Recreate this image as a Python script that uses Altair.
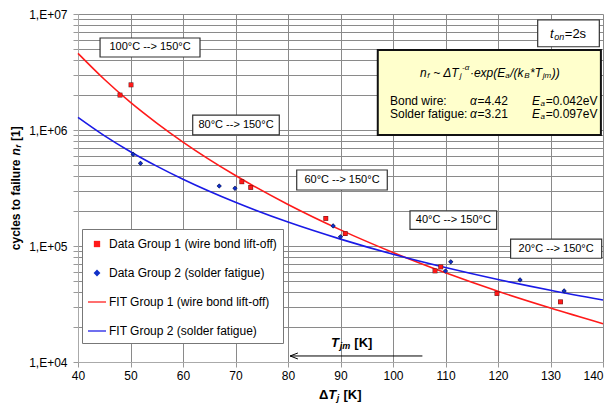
import math
import altair as alt
import pandas as pd

FONT = "Liberation Sans"

# ---------------- data ----------------
series = ["Data Group 1 (wire bond lift-off)", "Data Group 2 (solder fatigue)",
          "FIT Group 1 (wire bond lift-off)", "FIT Group 2 (solder fatigue)"]

g1_dT = [48.0, 50.1, 71.2, 72.9, 87.2, 90.9, 108.0, 109.1, 119.8, 131.9]
g1_nf = [2.0e6, 2.45e6, 3.58e5, 3.2e5, 1.73e5, 1.28e5, 6.1e4, 6.6e4, 3.9e4, 3.3e4]

g2_dT = [50.5, 51.9, 66.9, 69.9, 88.6, 90.0, 110.0, 111.0, 124.2, 132.6]
g2_nf = [6.17e5, 5.16e5, 3.29e5, 3.14e5, 1.49e5, 1.20e5, 6.08e4, 7.3e4, 5.1e4, 4.1e4]

fit_dT = [40, 45, 50, 55, 60, 70, 80, 90, 100, 110, 120, 130, 140]
fit1_nf = [4.58e6, 2.74e6, 1.73e6, 1.148e6, 7.87e5, 4.05e5, 2.28e5, 1.377e5,
           8.79e4, 5.87e4, 4.07e4, 2.92e4, 2.14e4]
fit2_nf = [1.285e6, 8.95e5, 6.50e5, 4.88e5, 3.76e5, 2.38e5, 1.607e5, 1.146e5,
           8.49e4, 6.52e4, 5.14e4, 4.15e4, 3.42e4]

x_ticks = [40, 50, 60, 70, 80, 90, 100, 110, 120, 130, 140]
y_ticks = [m * 10 ** e for e in (4, 5, 6) for m in range(1, 10)] + [10 ** 7]
y_decades = [10000, 100000, 1000000, 10000000]

range_labels = ["100°C --> 150°C", "80°C --> 150°C", "60°C --> 150°C",
                "40°C --> 150°C", "20°C --> 150°C"]
# annotation box corners (data coordinates)
box_x1 = [44.2, 61.85, 81.66, 103.24, 122.4]
box_x2 = [63.24, 78.34, 98.91, 119.75, 139.75]
box_y1 = [6.21e6, 1.346e6, 4.52e5, 2.01e5, 1.148e5]
box_y2 = [4.26e6, 9.06e5, 3.04e5, 1.393e5, 7.84e4]

# ---------------- styling ----------------
RED = "#ff1a1a"
BLUE = "#1a1ae6"
SQ = "M-0.35,-0.35H0.35V0.35H-0.35Z"
DI = "M0,-0.38L0.38,0L0,0.38L-0.38,0Z"
LN = "M-1,-0.07H1V0.07H-1Z"
ARROW = "M2.6,-1L0,0L2.6,1"

REG = {" ": 278, "!": 278, "(": 333, ")": 333, "*": 389, "+": 584, ",": 278, "-": 333,
       ".": 278, "/": 278, ":": 278, "=": 584, "~": 584, "[": 278, "]": 278, "°": 400,
       "·": 278, "Δ": 668, "α": 578, ">": 584,
       "A": 667, "B": 667, "C": 722, "D": 722, "E": 667, "F": 611, "G": 778, "H": 722,
       "I": 278, "J": 500, "K": 667, "L": 556, "M": 833, "N": 722, "O": 778, "P": 667,
       "Q": 778, "R": 722, "S": 667, "T": 611, "U": 722, "V": 667, "W": 944, "X": 667,
       "Y": 667, "Z": 611,
       "a": 556, "b": 556, "c": 500, "d": 556, "e": 556, "f": 278, "g": 556, "h": 556,
       "i": 222, "j": 222, "k": 500, "l": 222, "m": 833, "n": 556, "o": 556, "p": 556,
       "q": 556, "r": 333, "s": 500, "t": 278, "u": 556, "v": 500, "w": 722, "x": 500,
       "y": 500, "z": 500}
BOLD = dict(REG)
BOLD.update({"[": 333, "]": 333, "K": 722, "b": 611, "c": 556, "d": 611, "f": 333,
             "g": 611, "h": 611, "i": 278, "j": 278, "k": 556, "l": 278, "m": 889,
             "n": 611, "o": 611, "p": 611, "q": 611, "r": 389, "s": 556, "t": 333,
             "u": 611, "v": 556, "w": 778, "x": 556, "y": 556})


def twidth(s, size, bold=False):
    tab = BOLD if bold else REG
    return sum(tab.get(c, 556) for c in s) * size / 1000.0


one = pd.DataFrame({"k": [0]})

xscale = alt.Scale(domain=[40, 140], nice=False, zero=False)
yscale = alt.Scale(type="log", domain=[1e4, 1e7], nice=False)

xaxis = alt.Axis(
    values=x_ticks, title=None, grid=True, gridColor="#8a8a8a", gridWidth=1,
    labelFontSize=12, labelColor="black", labelFont=FONT, tickColor="#999",
    domainColor="#aaa", tickSize=5, labelPadding=3,
    labelAlign={"condition": {"test": "datum.value == 140", "value": "right"}, "value": "center"},
)
yaxis = alt.Axis(
    values=y_ticks, title=None, grid=True, gridColor="#8a8a8a", gridWidth=1,
    labelExpr="indexof(%s, datum.value) >= 0 ? '1,E+0' + round(log(datum.value)/LN10) : ''" % str(y_decades),
    labelFontSize=12, labelColor="black", labelFont=FONT, tickColor="#999",
    domainColor="#aaa", tickSize=5, labelPadding=6,
)


def X(field):
    return alt.X(field, scale=xscale, axis=xaxis)


def Y(field):
    return alt.Y(field, scale=yscale, axis=yaxis)


def XD(v):
    return alt.XDatum(v, scale=xscale, axis=xaxis)


def YD(v):
    return alt.YDatum(v, scale=yscale, axis=yaxis)


def rich(parts, x, y, align="left", angle=0, gap=0.6):
    """Text made of pieces (text, size, dy, flags); flags: i=italic, b=bold."""
    starts, cur = [], 0.0
    for text, size, dy, flags in parts:
        bold = "b" in flags
        lead = len(text) - len(text.lstrip(" "))
        starts.append(cur + twidth(" " * lead, size, bold))
        cur += twidth(text, size, bold) + gap
    off = -cur / 2 if align == "center" else 0.0
    out = []
    for (text, size, dy, flags), st in zip(parts, starts):
        out.append(
            alt.Chart(one).mark_text(
                text=text.strip(" "), align="left", baseline="middle", dx=st + off, dy=dy,
                fontSize=size, fontStyle="italic" if "i" in flags else "normal",
                fontWeight="bold" if "b" in flags else "normal", angle=angle,
                color="black", font=FONT,
            ).encode(x=x, y=y)
        )
    return out


# ---------------- layers ----------------
fit1 = pd.DataFrame({"dT": fit_dT, "nf": fit1_nf})
fit2 = pd.DataFrame({"dT": fit_dT, "nf": fit2_nf})

line1 = alt.Chart(fit1).mark_line(color=RED, strokeWidth=1.6, interpolate="monotone").encode(
    x=X("dT:Q"), y=Y("nf:Q"))
line2 = alt.Chart(fit2).mark_line(color=BLUE, strokeWidth=1.6, interpolate="monotone").encode(
    x=X("dT:Q"), y=Y("nf:Q"))

pts = pd.DataFrame({
    "dT": g1_dT + g2_dT,
    "nf": g1_nf + g2_nf,
    "series": [series[0]] * len(g1_dT) + [series[1]] * len(g2_dT),
})
p1 = pd.DataFrame({"dT": g1_dT, "nf": g1_nf})
p2 = pd.DataFrame({"dT": g2_dT, "nf": g2_nf})

out1 = alt.Chart(p1).mark_point(shape=SQ, filled=True, color="#5a1010", size=190, opacity=1).encode(
    x=X("dT:Q"), y=Y("nf:Q"))
out2 = alt.Chart(p2).mark_point(shape=DI, filled=True, color="#101030", size=180, opacity=1).encode(
    x=X("dT:Q"), y=Y("nf:Q"))

legend = alt.Legend(
    title=None, orient="none", legendX=4, legendY=215, padding=6, rowPadding=14,
    symbolSize=324, labelFontSize=12, labelFont=FONT, labelOffset=3, labelColor="black",
    strokeColor="#777", fillColor="white", symbolStrokeWidth=0, labelLimit=400,
    symbolOpacity=1,
)
points = alt.Chart(pts).mark_point(filled=True, size=125, opacity=1, strokeWidth=0).encode(
    x=X("dT:Q"), y=Y("nf:Q"),
    color=alt.Color("series:N", scale=alt.Scale(domain=series, range=[RED, "#1030c8", RED, BLUE]), legend=legend),
    shape=alt.Shape("series:N", scale=alt.Scale(domain=series, range=[SQ, DI, LN, LN]), legend=legend),
)

boxes = pd.DataFrame({"x1": box_x1, "x2": box_x2, "y1": box_y1, "y2": box_y2, "label": range_labels})
boxes["xc"] = (boxes["x1"] + boxes["x2"]) / 2
boxes["yc"] = [math.sqrt(a * b) for a, b in zip(box_y1, box_y2)]

box_rects = alt.Chart(boxes).mark_rect(fill="white", stroke="#333", strokeWidth=1.2).encode(
    x=X("x1:Q"), x2="x2", y=Y("y1:Q"), y2="y2")
box_text = alt.Chart(boxes).mark_text(fontSize=11, color="black", font=FONT).encode(
    x=X("xc:Q"), y=Y("yc:Q"), text="label:N")

# formula box and t_on box
formula_box = alt.Chart(one).mark_rect(fill="#ffffcc", stroke="#111", strokeWidth=2).encode(
    x=XD(97.1), x2=alt.X2Datum(139.6), y=YD(4.90e6), y2=alt.Y2Datum(9.06e5))
ton_box = alt.Chart(one).mark_rect(fill="white", stroke="#333", strokeWidth=1.2).encode(
    x=XD(127.56), x2=alt.X2Datum(139.3), y=YD(8.88e6), y2=alt.Y2Datum(5.22e6))

texts = []
texts += rich([("t", 13, 0, "i"), ("on", 9, 3, "i"), ("=2s", 13, 0, "")],
              XD(133.4), YD(6.73e6), align="center")
texts += rich([("n", 12, 0, "i"), ("f", 8, 3, "i"), (" ~ ΔT", 12, 0, "i"), ("j", 8, 3, "i"),
               ("-α", 8, -5, "i"), ("·exp(E", 12, 0, "i"), ("a", 8, 3, "i"), ("/(k", 12, 0, "i"),
               ("B", 8, 3, "i"), ("*T", 12, 0, "i"), ("jm", 8, 3, "i"), ("))", 12, 0, "i")],
              XD(118.5), YD(3.10e6), align="center")
for yv, name, a_val, e_val in [(1.795e6, "Bond wire:", "=4.42", "=0.042eV"),
                               (1.387e6, "Solder fatigue:", "=3.21", "=0.097eV")]:
    texts += rich([(name, 12, 0, "")], XD(99.43), YD(yv))
    texts += rich([("α", 12, 0, "i"), (a_val, 12, 0, "")], XD(114.67), YD(yv))
    texts += rich([("E", 12, 0, "i"), ("a", 8, 3, "i"), (e_val, 12, 0, "")], XD(126.48), YD(yv))

# T_jm arrow
arrow_line = alt.Chart(one).mark_rule(color="black", strokeWidth=1).encode(
    x=XD(80.4), x2=alt.X2Datum(105.6), y=YD(1.127e4))
arrow_head = alt.Chart(one).mark_point(shape=ARROW, filled=False, color="black", strokeWidth=1, size=36, opacity=1).encode(
    x=XD(80.4), y=YD(1.127e4))
texts += rich([("T", 13, 0, "bi"), ("jm", 9, 3, "bi"), (" [K]", 13, 0, "b")],
              XD(92.2), YD(1.46e4), align="center")

# axis titles
texts += rich([("Δ", 13, 0, "b"), ("T", 13, 0, "bi"), ("j", 9, 3, "bi"), (" [K]", 13, 0, "b")],
              alt.value(262.5), alt.value(381), align="center")
texts += rich([("cycles to failure", 12, 0, "b"), (" n", 12, 0, "bi"), ("f", 8, 3, "bi"), (" [1]", 12, 0, "b")],
              alt.value(-62), alt.value(174), align="center", angle=270)

chart = alt.layer(
    line1, line2, out1, out2, points, box_rects, box_text, formula_box, ton_box,
    arrow_line, arrow_head, *texts
).properties(
    width=525, height=348,
    autosize=alt.AutoSizeParams(type="none"),
    padding={"left": 70, "top": 6, "right": 2, "bottom": 45},
).configure(font=FONT).configure_view(stroke=None)

chart.save("out.html", embed_options={"renderer": "svg", "actions": False})
